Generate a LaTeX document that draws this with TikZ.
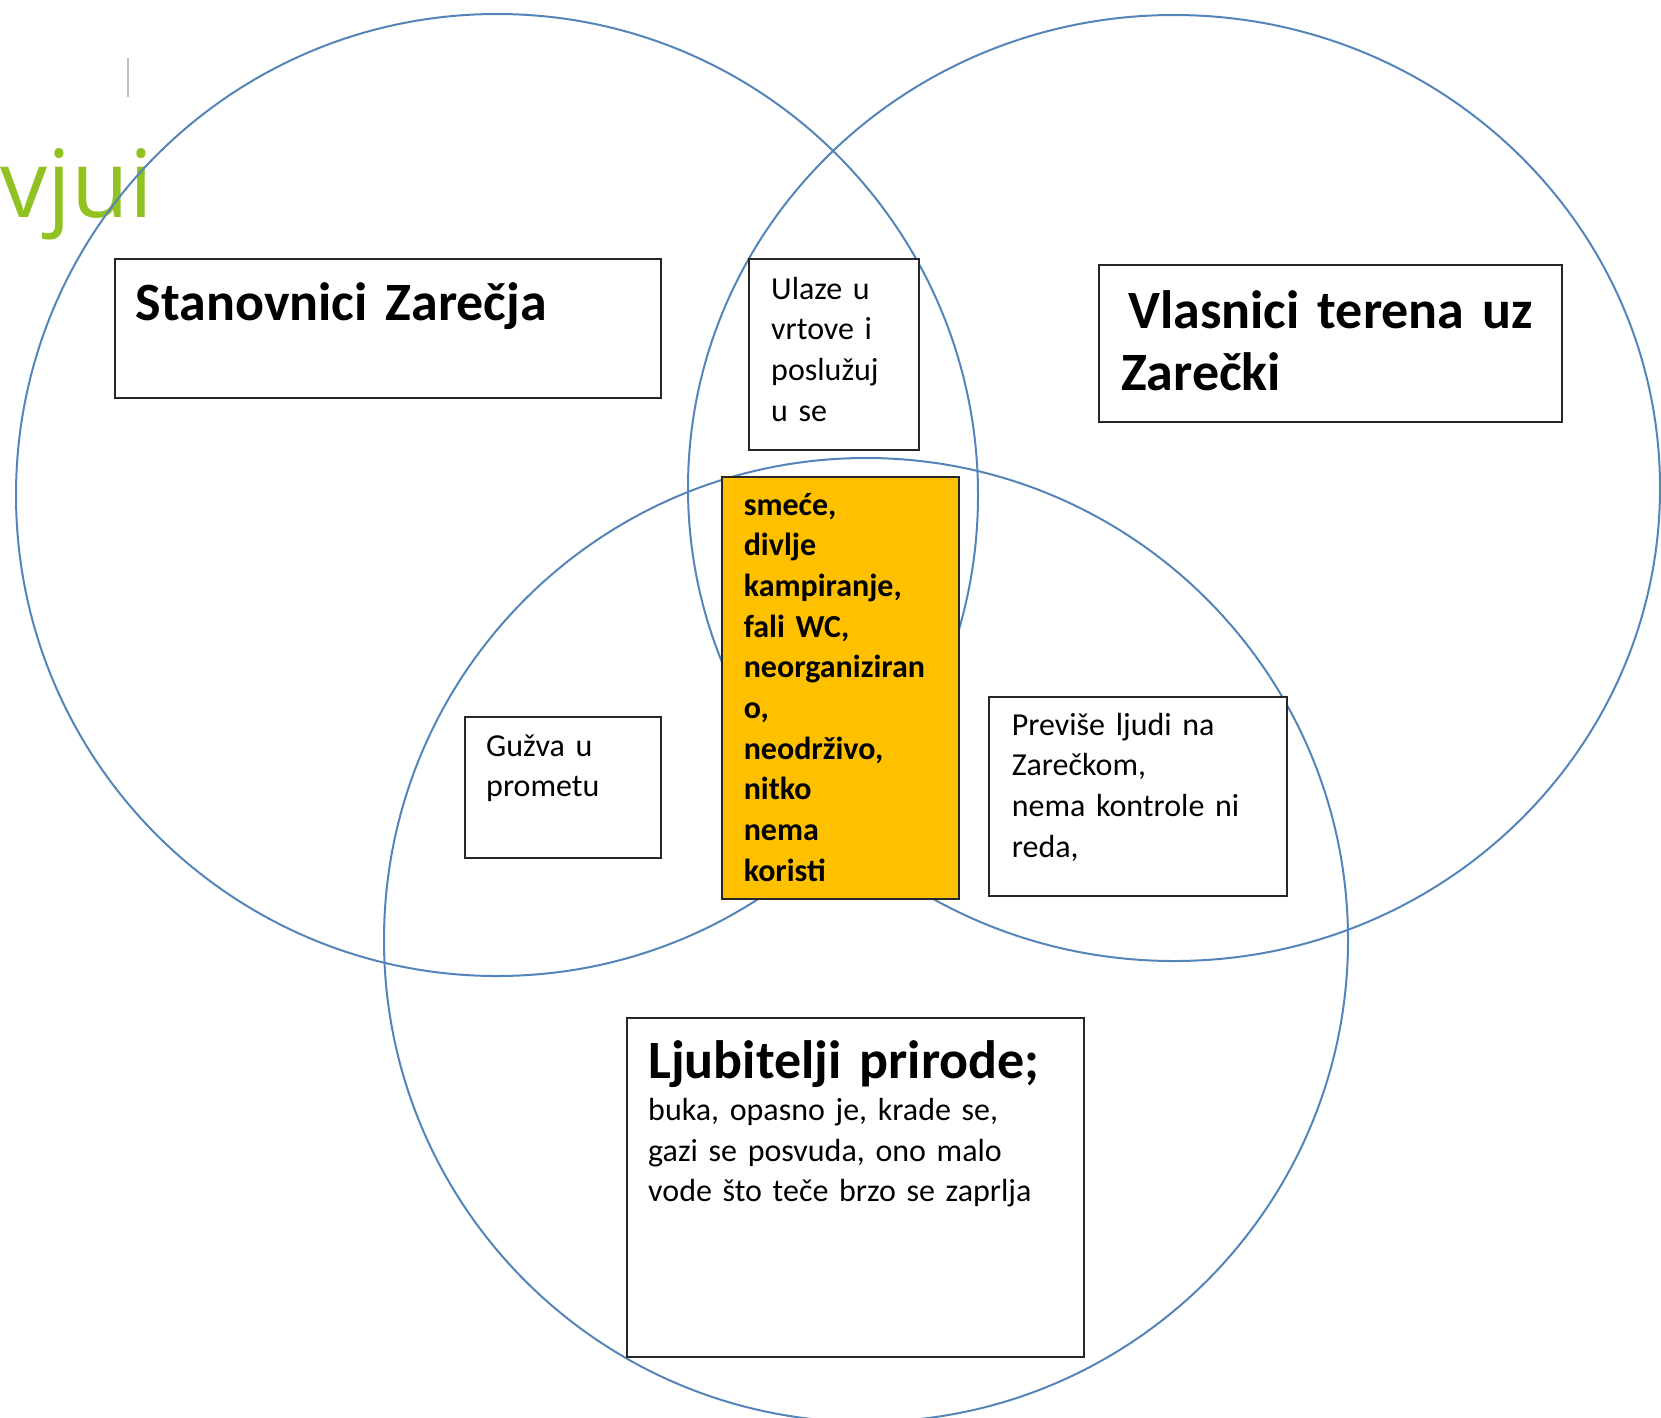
\documentclass[tikz,border=0pt]{standalone}
\usepackage{fontspec}
\setmainfont{Carlito}
\newfontfamily\slidefont{Open Sans}
\definecolor{RingBlue}{RGB}{84,133,185}
\definecolor{Gold}{RGB}{255,192,0}
\definecolor{SlideGreen}{RGB}{144,194,34}
\usetikzlibrary{positioning}

\begin{document}
\begin{tikzpicture}[
        x=1pt, y=-1pt,
        ring/.style={draw=RingBlue, line width=2pt},
        box/.style={rectangle, draw=black!85, line width=2.4pt, fill=white, anchor=north west, inner sep=0pt},
        txt/.style={anchor=base west, inner sep=0pt, text width=#1, align=left, font=\fontsize{32}{40.7}\selectfont},
        head/.style={anchor=base west, inner sep=0pt, text width=#1, align=left, font=\bfseries\fontsize{54}{62}\selectfont}
    ]
        \useasboundingbox (0,0) rectangle (1661,1417);

        % Slide title behind the picture
        \node[anchor=base east, inner sep=0pt, text=SlideGreen, font=\slidefont\fontsize{94}{100}\selectfont] (slidetitle) at (153,217) {vjui};
        \draw[black!25, line width=1.6pt] (128,58) -- (128,97);

        % Circles
        \draw[ring] (497,495) circle [radius=481pt];
        \draw[ring] (1174,488) ellipse [x radius=486pt, y radius=473pt];
        \draw[ring] (866,940) circle [radius=482pt];

        % Boxes
        \node[box, minimum width=546pt, minimum height=139pt] (stanbox) at (114,258) {};
        \node[box, minimum width=463pt, minimum height=157pt] (vlasbox) at (1098,264) {};
        \node[box, minimum width=170pt, minimum height=191pt] (ulazbox) at (748,258) {};
        \node[box, fill=Gold, minimum width=237pt, minimum height=422pt] (allbox) at (721,476) {};
        \node[box, minimum width=196pt, minimum height=141pt] (guzvabox) at (464,716) {};
        \node[box, minimum width=298pt, minimum height=199pt] (previbox) at (988,696) {};
        \node[box, minimum width=457pt, minimum height=339pt] (ljubbox) at (626,1017) {};

        % Texts
        \node[head=520pt] (stantxt) at ([xshift=21.6pt, yshift=-62pt]stanbox.north west) {Stanovnici Zarečja};
        \node[head=440pt] (vlastxt) at ([xshift=23pt, yshift=-64pt]vlasbox.north west) {\hspace*{7pt}Vlasnici terena uz\\Zarečki};
        \node[txt=150pt] (ulaztxt) at ([xshift=23pt, yshift=-41pt]ulazbox.north west) {Ulaze u\\vrtove i\\poslužuj\\u se};
        \node[txt=220pt, font=\bfseries\fontsize{32}{40.7}\selectfont] (alltxt) at ([xshift=22.6pt, yshift=-39pt]allbox.north west) {smeće,\\divlje\\kampiranje,\\fali WC,\\neorganiziran\\o,\\neodrživo,\\nitko\\nema\\koristi};
        \node[txt=170pt] (guzvatxt) at ([xshift=22pt, yshift=-40pt]guzvabox.north west) {Gužva u\\prometu};
        \node[txt=270pt] (previtxt) at ([xshift=23.6pt, yshift=-39pt]previbox.north west) {Previše ljudi na\\Zarečkom,\\nema kontrole ni\\reda,};
        \node[head=430pt] (ljubhead) at ([xshift=22pt, yshift=-61pt]ljubbox.north west) {Ljubitelji prirode;};
        \node[txt=430pt] (ljubtxt) at ([yshift=-42.5pt]ljubhead.base west) {buka, opasno je, krade se,\\gazi se posvuda, ono malo\\vode što teče brzo se zaprlja};
    \end{tikzpicture}
\end{document}
